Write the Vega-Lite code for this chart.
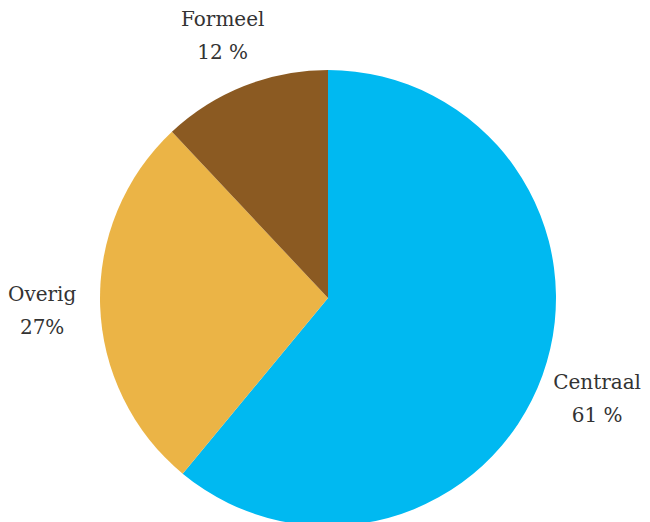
{
  "$schema": "https://vega.github.io/schema/vega-lite/v6.json",
  "width": 656,
  "height": 596,
  "padding": 0,
  "autosize": {"type": "none"},
  "background": "white",
  "view": {"stroke": null},
  "data": {
    "values": [
      {"categorie": "Centraal", "aandeel": 61, "volgorde": 1, "label": "Centraal\n61 %"},
      {"categorie": "Overig", "aandeel": 27, "volgorde": 2, "label": "Overig\n27%"},
      {"categorie": "Formeel", "aandeel": 12, "volgorde": 3, "label": "Formeel\n12 %"}
    ]
  },
  "encoding": {
    "theta": {"field": "aandeel", "type": "quantitative", "stack": true},
    "order": {"field": "volgorde", "type": "quantitative"}
  },
  "layer": [
    {
      "mark": {"type": "arc", "outerRadius": 228},
      "encoding": {
        "color": {
          "field": "categorie",
          "type": "nominal",
          "scale": {"domain": ["Centraal", "Overig", "Formeel"], "range": ["#00B9F1", "#EBB446", "#8B5A22"]},
          "legend": null
        }
      }
    },
    {
      "mark": {"type": "text", "radius": 286, "dy": -12, "lineBreak": "\n", "font": "DejaVu Serif", "fontSize": 20, "lineHeight": 33, "color": "#333333", "align": "center", "baseline": "middle"},
      "encoding": {
        "text": {"field": "label"}
      }
    }
  ]
}
